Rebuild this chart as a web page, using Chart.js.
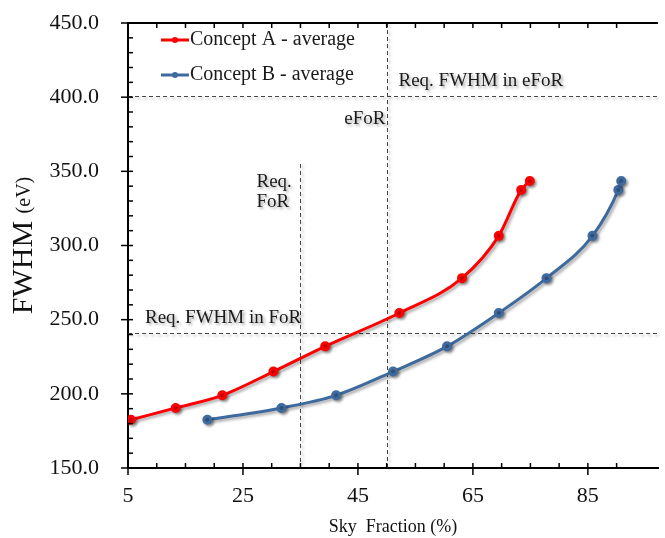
<!DOCTYPE html>
<html>
<head>
<meta charset="utf-8">
<script src="https://cdn.jsdelivr.net/npm/chart.js@4"></script>
<style>
  html, body { margin: 0; padding: 0; background: #fff; overflow: hidden; }
  #wrap { width: 665px; height: 538px; position: relative; }
  canvas { display: block; }
</style>
</head>
<body>
<div id="wrap"><canvas id="fwhmChart"></canvas></div>
<script>
// sky fraction (%) for each concept, FWHM (eV) levels shared by both curves
var skyA = [5.5, 13.3, 21.4, 30.3, 39.3, 52.2, 63.1, 69.5, 73.4, 74.9];
var skyB = [18.8, 31.7, 41.2, 51.1, 60.5, 69.5, 77.8, 85.8, 90.3, 90.8];
var fwhm = [182.5, 190.5, 199, 215, 232, 254.5, 278, 306.5, 337.5, 343.5];

var seriesNames = ['Concept A - average', 'Concept B - average'];
var xTickLabels = [5, 25, 45, 65, 85];
var yTickLabels = [150, 200, 250, 300, 350, 400, 450];

// requirement lines
var reqFoR = 35;        // sky fraction
var eFoR = 50;          // sky fraction
var reqFwhmFoR = 241;   // eV
var reqFwhmEFoR = 401;  // eV

var serif = "'Liberation Serif', 'Times New Roman', serif";
var red = '#ff0000';
var blue = '#3e6a9e';

function pts(xs, ys) {
    return xs.map(function (x, i) { return { x: x, y: ys[i] }; });
}

var shadowPlugin = {
    id: 'shadow',
    beforeDatasetsDraw: function (chart) {
        var c = chart.ctx;
        c.save();
        c.shadowColor = 'rgba(0,0,0,0.35)';
        c.shadowBlur = 3;
        c.shadowOffsetX = 2;
        c.shadowOffsetY = 2;
    },
    afterDatasetsDraw: function (chart) {
        chart.ctx.restore();
    }
};

var refPlugin = {
    id: 'refs',
    beforeDatasetsDraw: function (chart) {
        var c = chart.ctx, a = chart.chartArea;
        var xs = chart.scales.x, ys = chart.scales.y;
        c.save();
        c.strokeStyle = '#444';
        c.lineWidth = 1;
        c.setLineDash([4, 3]);
        // horizontal
        [reqFwhmFoR, reqFwhmEFoR].forEach(function (v) {
            var y = Math.round(ys.getPixelForValue(v)) + 0.5;
            c.beginPath(); c.moveTo(a.left, y); c.lineTo(a.right, y); c.stroke();
        });
        // vertical
        var xr = Math.round(xs.getPixelForValue(reqFoR)) + 0.5;
        c.beginPath(); c.moveTo(xr, ys.getPixelForValue(355)); c.lineTo(xr, a.bottom); c.stroke();
        var xe = Math.round(xs.getPixelForValue(eFoR)) + 0.5;
        c.beginPath(); c.moveTo(xe, a.top); c.lineTo(xe, a.bottom); c.stroke();
        c.setLineDash([]);

        c.fillStyle = '#1a1a1a';
        c.textBaseline = 'middle';
        c.font = '19px ' + serif;
        c.textAlign = 'left';
        var yE = ys.getPixelForValue(reqFwhmEFoR);
        var yF = ys.getPixelForValue(reqFwhmFoR);
        c.fillText('Req. FWHM in eFoR', xe + 11, yE - 15);
        c.fillText('Req. FWHM in FoR', a.left + 17, yF - 15);
        c.textAlign = 'right';
        c.fillText('eFoR', xe - 2, yE + 23);
        c.textAlign = 'left';
        c.fillText('Req.', xr - 44, 182);
        c.fillText('FoR', xr - 44, 202);
        c.restore();
    },
    afterDraw: function (chart) {
        var c = chart.ctx, a = chart.chartArea;
        var xs = chart.scales.x, ys = chart.scales.y;
        c.save();
        c.strokeStyle = '#000';
        c.lineWidth = 2;
        // top frame line
        c.beginPath(); c.moveTo(a.left, a.top); c.lineTo(a.right, a.top); c.stroke();
        c.lineWidth = 1.5;
        // x ticks
        xs.ticks.forEach(function (t) {
            if ((t.value - 5) % 5 !== 0) return;
            var x = xs.getPixelForValue(t.value);
            var major = xTickLabels.indexOf(t.value) >= 0;
            c.beginPath();
            c.moveTo(x, a.bottom - 5);
            c.lineTo(x, a.bottom + (major ? 7 : 0));
            c.stroke();
            c.beginPath();
            c.moveTo(x, a.top);
            c.lineTo(x, a.top + 5);
            c.stroke();
        });
        // y ticks
        ys.ticks.forEach(function (t) {
            var y = ys.getPixelForValue(t.value);
            var major = yTickLabels.indexOf(t.value) >= 0;
            c.beginPath();
            c.moveTo(a.left - (major ? 7 : 0), y);
            c.lineTo(a.left + 5, y);
            c.stroke();
        });

        // legend
        var colors = [red, blue];
        seriesNames.forEach(function (name, i) {
            var y = 40 + i * 35;
            c.strokeStyle = colors[i];
            c.fillStyle = colors[i];
            c.lineWidth = 3;
            c.beginPath(); c.moveTo(161, y); c.lineTo(189, y); c.stroke();
            c.beginPath(); c.arc(175, y, 3, 0, Math.PI * 2); c.fill();
            c.fillStyle = '#1a1a1a';
            c.font = '20px ' + serif;
            c.textAlign = 'left';
            c.textBaseline = 'middle';
            c.fillText(name, 190, y);
        });

        // y title with mixed sizes
        c.save();
        c.translate(24, (a.top + a.bottom) / 2);
        c.rotate(-Math.PI / 2);
        c.fillStyle = '#111';
        c.textBaseline = 'middle';
        c.font = '30px ' + serif;
        var w1 = c.measureText('FWHM ').width;
        c.font = '20px ' + serif;
        var w2 = c.measureText('(eV)').width;
        var start = -(w1 + w2) / 2;
        c.font = '30px ' + serif;
        c.textAlign = 'left';
        c.fillText('FWHM', start, 0);
        c.font = '20px ' + serif;
        c.fillText('(eV)', start + w1, 1);
        c.restore();
        c.restore();
    }
};

var ctx = document.getElementById('fwhmChart').getContext('2d');
var fwhmChart = new Chart(ctx, {
    type: 'line',
    data: {
        datasets: [{
            label: seriesNames[0],
            data: pts(skyA, fwhm),
            borderColor: red,
            backgroundColor: red,
            borderWidth: 3,
            pointRadius: 3.5,
            cubicInterpolationMode: 'monotone'
        }, {
            label: seriesNames[1],
            data: pts(skyB, fwhm),
            borderColor: blue,
            backgroundColor: blue,
            borderWidth: 3,
            pointRadius: 3.5,
            cubicInterpolationMode: 'monotone'
        }]
    },
    options: {
        responsive: true,
        maintainAspectRatio: false,
        animation: false,
        layout: { padding: { top: 23, right: 0, left: 0, bottom: 0 } },
        plugins: {
            legend: { display: false },
            tooltip: { enabled: false }
        },
        scales: {
            x: {
                type: 'linear',
                min: 5,
                max: 97.2,
                afterFit: function (s) {
                    s.height = 70;
                    s.paddingRight = 0;
                },
                grid: { display: false },
                border: { display: true, color: '#000', width: 2 },
                ticks: {
                    stepSize: 5,
                    autoSkip: false,
                    maxRotation: 0,
                    padding: 7,
                    color: '#111',
                    font: { family: serif, size: 22 },
                    callback: function (v) { return xTickLabels.indexOf(v) >= 0 ? String(v) : ''; }
                },
                title: {
                    display: true,
                    text: 'Sky  Fraction (%)',
                    color: '#111',
                    font: { family: serif, size: 18 },
                    padding: { top: 4, bottom: 0 }
                }
            },
            y: {
                min: 150,
                max: 450,
                afterFit: function (s) {
                    s.width = 128;
                    s.paddingTop = 10;
                    s.paddingBottom = 10;
                },
                grid: { display: false },
                border: { display: true, color: '#000', width: 2 },
                ticks: {
                    stepSize: 10,
                    autoSkip: false,
                    padding: 21,
                    color: '#111',
                    font: { family: serif, size: 22 },
                    callback: function (v) { return yTickLabels.indexOf(v) >= 0 ? v.toFixed(1) : ''; }
                }
            }
        }
    },
    plugins: [shadowPlugin, refPlugin]
});
</script>
</body>
</html>
